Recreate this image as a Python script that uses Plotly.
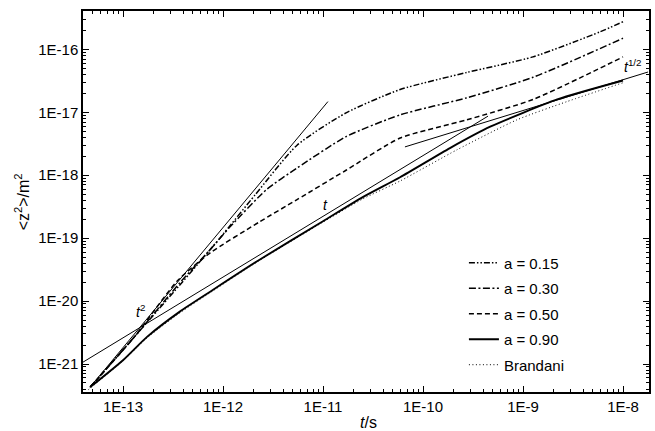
import plotly.graph_objects as go

# ---- data ----
t_015 = [4.7e-14, 1.3e-13, 3.7e-13, 9.3e-13, 2.1e-12, 5.5e-12, 1.7e-11, 5.9e-11, 2.75e-10, 1.26e-9, 5.9e-9, 1.0e-8]
z_015 = [4.3e-22, 2.7e-21, 1.8e-20, 1.0e-19, 4.9e-19, 3.0e-18, 9.8e-18, 2.3e-17, 4.3e-17, 7.6e-17, 1.9e-16, 2.75e-16]

t_030 = [4.7e-14, 1.3e-13, 3.7e-13, 7.4e-13, 1.17e-12, 2.75e-12, 5.5e-12, 1.7e-11, 5.9e-11, 2.75e-10, 1.26e-9, 1.0e-8]
z_030 = [4.3e-22, 2.7e-21, 1.95e-20, 6.5e-20, 1.5e-19, 6.0e-19, 1.3e-18, 4.1e-18, 9.1e-18, 1.7e-17, 3.6e-17, 1.5e-16]

t_050 = [4.7e-14, 1.3e-13, 3.5e-13, 7.4e-13, 2.3e-12, 5.5e-12, 1.7e-11, 5.9e-11, 2.75e-10, 1.26e-9, 1.0e-8]
z_050 = [4.3e-22, 2.7e-21, 2.1e-20, 5.8e-20, 1.8e-19, 4.1e-19, 1.2e-18, 3.9e-18, 7.6e-18, 1.6e-17, 7.6e-17]

t_090 = [4.7e-14, 1.0e-13, 1.74e-13, 3.7e-13, 7.9e-13, 2.3e-12, 1.0e-11, 2.5e-11, 5.9e-11, 1.86e-10, 4.7e-10, 2.2e-9, 1.0e-8]
z_090 = [4.3e-22, 1.15e-21, 2.7e-21, 6.8e-21, 1.5e-20, 4.5e-20, 1.86e-19, 4.5e-19, 9.3e-19, 2.7e-18, 5.9e-18, 1.6e-17, 3.2e-17]

t_bran = [4.5e-14, 1.0e-13, 1.74e-13, 3.7e-13, 7.9e-13, 2.3e-12, 1.0e-11, 2.5e-11, 5.9e-11, 2.2e-10, 8.7e-10, 2.75e-9, 1.0e-8]
z_bran = [3.9e-22, 1.12e-21, 2.6e-21, 6.5e-21, 1.45e-20, 4.4e-20, 1.8e-19, 4.2e-19, 8.1e-19, 2.55e-18, 7.6e-18, 1.48e-17, 2.95e-17]

# power-law guide lines
t_sq = [4.68e-14, 1.12e-11]
z_sq = [4.27e-22, 1.48e-17]
t_lin = [3.98e-14, 4.47e-10]
z_lin = [1.07e-21, 8.7e-18]
t_half = [6.6e-11, 1.78e-8]
z_half = [2.82e-18, 4.37e-17]

x_tick_vals = [1e-13, 1e-12, 1e-11, 1e-10, 1e-9, 1e-8]
x_tick_text = ["1E-13", "1E-12", "1E-11", "1E-10", "1E-9", "1E-8"]
y_tick_vals = [1e-21, 1e-20, 1e-19, 1e-18, 1e-17, 1e-16]
y_tick_text = ["1E-21", "1E-20", "1E-19", "1E-18", "1E-17", "1E-16"]

labels = ["a = 0.15", "a = 0.30", "a = 0.50", "a = 0.90", "Brandani"]

FONT = "Liberation Sans, Arial, sans-serif"

fig = go.Figure()

series = [
    (t_015, z_015, labels[0], dict(color="black", width=1.5, dash="6px,2px,1.5px,2px,1.5px,2px")),
    (t_030, z_030, labels[1], dict(color="black", width=1.5, dash="7px,2.5px,2px,2.5px")),
    (t_050, z_050, labels[2], dict(color="black", width=1.5, dash="5px,3px")),
    (t_090, z_090, labels[3], dict(color="black", width=1.9)),
    (t_bran, z_bran, labels[4], dict(color="black", width=1, dash="1px,2.5px")),
]
for i, (tx, zy, name, ln) in enumerate(series):
    ln = dict(ln, shape="spline", smoothing=0.6)
    fig.add_trace(go.Scatter(x=tx, y=zy, mode="lines", name=name, line=ln,
                             legendgroup="g%d" % i, showlegend=True))

for tx, zy in [(t_sq, z_sq), (t_lin, z_lin), (t_half, z_half)]:
    fig.add_trace(go.Scatter(x=tx, y=zy, mode="lines", line=dict(color="black", width=1),
                             showlegend=False, hoverinfo="skip"))

def minors(lo, hi):
    out = []
    for k in range(lo, hi + 1):
        for m in range(2, 10):
            out.append(m * 10.0 ** k)
    return out

axis_common = dict(
    type="log", showline=True, linecolor="black", linewidth=1.5, mirror="ticks",
    ticks="inside", ticklen=6, tickwidth=1.2, tickcolor="black",
    showgrid=False, zeroline=False, automargin=False,
    tickfont=dict(family=FONT, size=15, color="black"),
)

fig.update_xaxes(**axis_common, range=[-13.4, -7.74], tickmode="array",
                 tickvals=x_tick_vals, ticktext=x_tick_text,
                 minor=dict(tickmode="array", tickvals=minors(-14, -8), ticks="inside",
                            ticklen=3, tickwidth=1, tickcolor="black", showgrid=False))
fig.update_yaxes(**axis_common, range=[-21.445, -15.39], tickmode="array",
                 tickvals=y_tick_vals, ticktext=y_tick_text,
                 minor=dict(tickmode="array", tickvals=minors(-22, -16), ticks="inside",
                            ticklen=3, tickwidth=1, tickcolor="black", showgrid=False))

# axis titles
fig.add_annotation(xref="paper", yref="paper", x=0.505, y=-0.08, yanchor="middle",
                   text="<i>t</i>/s", showarrow=False,
                   font=dict(family=FONT, size=16, color="black"))
fig.add_annotation(xref="paper", yref="paper", x=-0.108, y=0.5, xanchor="center",
                   text="&lt;z<sup>2</sup>&gt;/m<sup>2</sup>", textangle=-90, showarrow=False,
                   font=dict(family=FONT, size=16, color="black"))

# power-law labels
fig.add_annotation(x=-12.83, y=-20.16, text="<i>t</i><sup>2</sup>", showarrow=False,
                   font=dict(family=FONT, size=14, color="black"))
fig.add_annotation(x=-10.98, y=-18.47, text="<i>t</i>", showarrow=False,
                   font=dict(family=FONT, size=14, color="black"))
fig.add_annotation(x=-7.9, y=-16.27, text="<i>t</i><sup>1/2</sup>", showarrow=False,
                   font=dict(family=FONT, size=14, color="black"))

fig.update_layout(
    width=655, height=431,
    margin=dict(l=83, r=6, t=11, b=39, autoexpand=False),
    paper_bgcolor="white", plot_bgcolor="white",
    font=dict(family=FONT, size=14, color="black"),
    legend=dict(x=0.673, y=0.382, xanchor="left", yanchor="top",
                bgcolor="rgba(0,0,0,0)", borderwidth=0,
                font=dict(family=FONT, size=15, color="black"),
                traceorder="grouped", tracegroupgap=3, itemwidth=30),
    showlegend=True,
)

fig.write_html("out.html", config={"displayModeBar": False},
               post_script="document.body.style.margin='0px';document.body.style.overflow='hidden';")
